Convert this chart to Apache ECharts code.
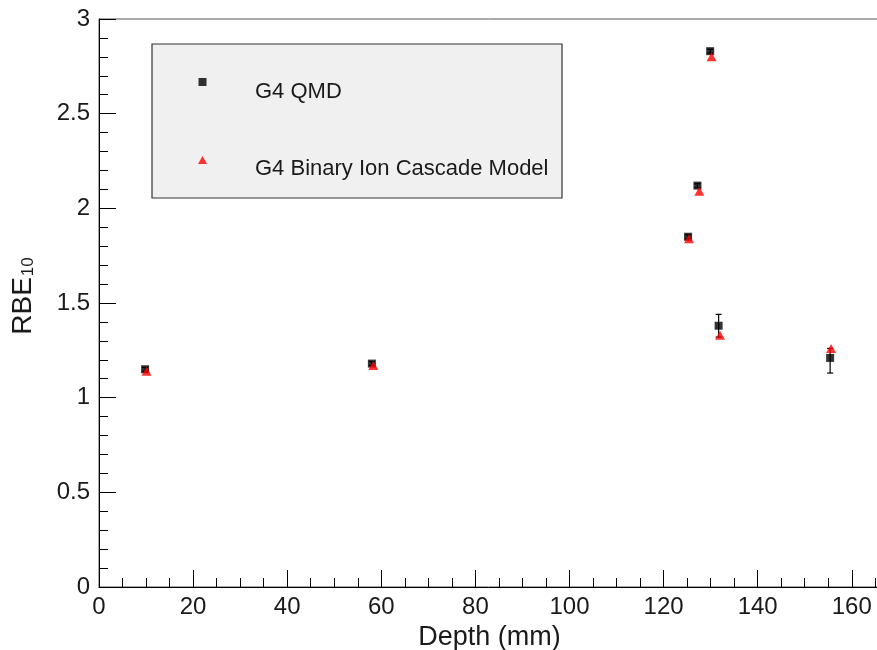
<!DOCTYPE html>
<html>
<head>
<meta charset="utf-8">
<script src="https://cdn.jsdelivr.net/npm/echarts@6/dist/echarts.min.js"></script>
<style>
  html, body { margin: 0; padding: 0; background: #fff; }
  #chart { width: 877px; height: 650px; }
</style>
</head>
<body>
<div id="chart"></div>
<script>
// Depth (mm) of each scored position
const qmdDepth = [9.8, 58.0, 125.2, 127.2, 129.9, 131.7, 155.4];
// RBE10 from the QMD model, with its statistical error (below / above)
const qmdRbe = [1.15, 1.18, 1.85, 2.12, 2.83, 1.38, 1.21];
const qmdErrLow = [0.01, 0.01, 0.01, 0.01, 0.01, 0.06, 0.08];
const qmdErrHigh = [0.01, 0.01, 0.01, 0.01, 0.01, 0.06, 0.05];
// Binary Ion Cascade model
const bicDepth = [10.1, 58.3, 125.4, 127.6, 130.2, 132.0, 155.6];
const bicRbe = [1.14, 1.17, 1.84, 2.09, 2.80, 1.33, 1.26];

const seriesNames = ['G4 QMD', 'G4 Binary Ion Cascade Model'];
const xTitle = 'Depth (mm)';

const FONT = '"Liberation Sans", Arial, Helvetica, sans-serif';

const qmdPoints = qmdDepth.map((d, i) => [d, qmdRbe[i]]);
const qmdBars = qmdDepth.map((d, i) => [d, qmdRbe[i] - qmdErrLow[i], qmdRbe[i] + qmdErrHigh[i]]);
const bicPoints = bicDepth.map((d, i) => [d, bicRbe[i]]);

const chart = echarts.init(document.getElementById('chart'), null, { renderer: 'canvas' });

// legend icons: marker sits near the top of a taller box so it rides above the text
const squareIcon = 'path://M0,0h8v8h-8z M0,28';
const triangleIcon = 'path://M5,0L10,9H0z M0,28';

chart.setOption({
  animation: false,
  backgroundColor: '#ffffff',
  textStyle: { fontFamily: FONT },
  grid: {
    left: 99, right: -3, top: 19, bottom: 63,
    outerBoundsMode: 'none',
    containLabel: false,
    show: true, borderColor: '#555', borderWidth: 1, backgroundColor: 'transparent'
  },
  graphic: [{
    type: 'rect',
    shape: { x: 152, y: 44, width: 410, height: 154 },
    style: { fill: '#f0f0f0', stroke: '#333', lineWidth: 1.2 },
    z: 1
  }],
  legend: {
    left: 198, top: 78,
    orient: 'vertical',
    itemGap: 50,
    padding: 0,
    z: 5,
    textStyle: { fontSize: 22, color: '#1a1a1a', fontFamily: FONT, padding: [0, 0, 0, 43] },
    data: [
      { name: seriesNames[0], icon: squareIcon, itemStyle: { color: '#000' } },
      { name: seriesNames[1], icon: triangleIcon, itemStyle: { color: '#f00' } }
    ],
    itemWidth: 9, itemHeight: 28,
    selectedMode: false
  },
  xAxis: {
    type: 'value', min: 0, max: 166, interval: 20,
    name: xTitle, nameLocation: 'middle', nameGap: 34,
    nameTextStyle: { fontSize: 27, color: '#1a1a1a', fontFamily: FONT },
    axisLine: { show: true, onZero: false, lineStyle: { color: '#000', width: 1 } },
    axisTick: { show: true, inside: true, length: 17, lineStyle: { color: '#000' } },
    minorTick: { show: true, splitNumber: 4, length: 9, lineStyle: { color: '#000' } },
    splitLine: { show: false },
    axisLabel: { fontSize: 24, color: '#1a1a1a', margin: 8, showMaxLabel: false, fontFamily: FONT }
  },
  yAxis: {
    type: 'value', min: 0, max: 3, interval: 0.5,
    name: '{a|RBE}{b|10}', nameLocation: 'middle', nameGap: 62,
    nameTextStyle: {
      fontFamily: FONT, color: '#1a1a1a',
      padding: [0, 0, 0, 14],
      rich: {
        a: { fontSize: 28, fontFamily: FONT, color: '#1a1a1a', lineHeight: 32, verticalAlign: 'bottom' },
        b: { fontSize: 17, fontFamily: FONT, color: '#1a1a1a', lineHeight: 32, verticalAlign: 'bottom', padding: [0, 0, 0, 1] }
      }
    },
    axisLine: { show: true, onZero: false, lineStyle: { color: '#000', width: 1 } },
    axisTick: { show: true, inside: true, length: 17, lineStyle: { color: '#000' } },
    minorTick: { show: true, splitNumber: 5, length: 9, lineStyle: { color: '#000' } },
    splitLine: { show: false },
    axisLabel: { fontSize: 24, color: '#1a1a1a', margin: 9, fontFamily: FONT }
  },
  series: [
    {
      name: 'qmd-error',
      type: 'custom',
      silent: true,
      z: 2,
      data: qmdBars,
      renderItem: function (params, api) {
        const x = api.value(0);
        const lo = api.coord([x, api.value(1)]);
        const hi = api.coord([x, api.value(2)]);
        const cap = 3;
        const style = { stroke: '#000', lineWidth: 1.2 };
        return {
          type: 'group',
          children: [
            { type: 'line', shape: { x1: lo[0], y1: lo[1], x2: hi[0], y2: hi[1] }, style },
            { type: 'line', shape: { x1: hi[0] - cap, y1: hi[1], x2: hi[0] + cap, y2: hi[1] }, style },
            { type: 'line', shape: { x1: lo[0] - cap, y1: lo[1], x2: lo[0] + cap, y2: lo[1] }, style }
          ]
        };
      }
    },
    {
      name: seriesNames[0],
      type: 'scatter',
      symbol: 'rect',
      symbolSize: 8,
      z: 3,
      itemStyle: { color: '#000' },
      data: qmdPoints
    },
    {
      name: seriesNames[1],
      type: 'scatter',
      symbol: 'triangle',
      symbolSize: [10, 9],
      z: 4,
      itemStyle: { color: '#f00' },
      data: bicPoints
    }
  ]
});
</script>
</body>
</html>
